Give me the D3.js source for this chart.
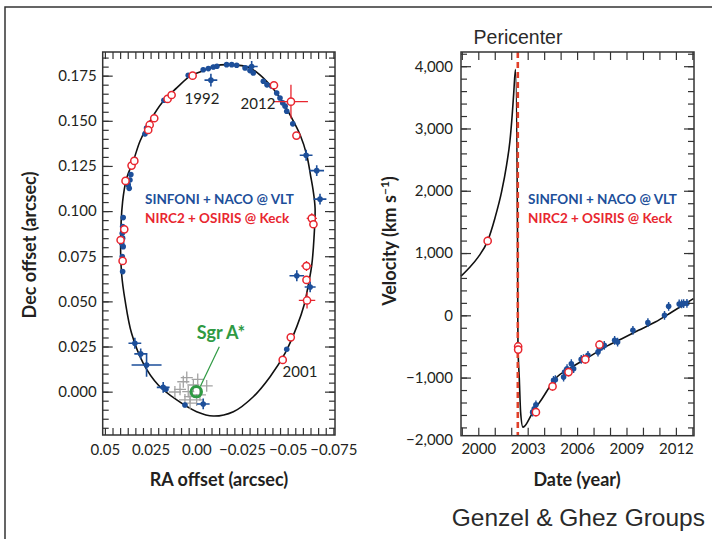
<!DOCTYPE html>
<html>
<head>
<meta charset="utf-8">
<script src="https://cdn.jsdelivr.net/npm/d3@7"></script>
<style>
  body { margin: 0; background: #fff; }
  svg { display: block; font-family: Lato, "Open Sans", sans-serif; }
  .tick text { font-size: 15px; fill: #231f20; font-family: Lato, "Open Sans", sans-serif; }
  .axis-title { font-size: 18px; font-weight: 700; fill: #231f20; }
  .legend { font-size: 13.5px; font-weight: 700; }
  .year { font-size: 15px; fill: #231f20; }
  .note { font-family: "Liberation Sans", Arimo, sans-serif; fill: #2a2a2a; }
</style>
</head>
<body>
<svg id="chart" width="712" height="539"></svg>
<script>
// ---- orbit panel (RA / Dec in arcsec) ----
const orbitRA = [-0.0185, -0.0293, -0.0385, -0.0458, -0.0522, -0.0568, -0.0604, -0.0626, -0.0639, -0.065,
  -0.0644, -0.0632, -0.0613, -0.059, -0.055, -0.0486, -0.0404, -0.0312, -0.0203, -0.0093,
  -0.0002, 0.0107, 0.0208, 0.029, 0.0354, 0.039, 0.0408, 0.0414, 0.0403, 0.0381,
  0.0345, 0.0308, 0.0254, 0.0181, 0.0107, 0.0034, -0.002, -0.0102];
const orbitDec = [0.1811, 0.1793, 0.1719, 0.1626, 0.1516, 0.1423, 0.1312, 0.1193, 0.1117, 0.1016,
  0.085, 0.0702, 0.0591, 0.048, 0.036, 0.0213, 0.0083, -0.0028, -0.0111, -0.0135,
  -0.0111, -0.0046, 0.0037, 0.0157, 0.0323, 0.0508, 0.0646, 0.0812, 0.1052, 0.1182,
  0.1276, 0.1387, 0.1497, 0.1608, 0.1682, 0.1747, 0.177, 0.1804];

// [RA, Dec, errRA, errDec]
const vltOrbit = [
  [0.0044, 0.1752, 0.0012, 0.0012], [-0.0038, 0.1783, 0.0012, 0.0012], [-0.0066, 0.1789, 0.0012, 0.0012],
  [-0.0093, 0.1798, 0.0012, 0.0012], [-0.0113, 0.1802, 0.0012, 0.0012], [-0.0166, 0.1811, 0.0012, 0.0012],
  [-0.0194, 0.1811, 0.0012, 0.0012], [-0.0221, 0.1808, 0.0012, 0.0012], [-0.0267, 0.1793, 0.0012, 0.0012],
  [-0.0303, 0.1801, 0.0033, 0.003], [-0.0294, 0.1778, 0.0012, 0.0012], [-0.0312, 0.1765, 0.0012, 0.0012],
  [-0.0367, 0.1719, 0.0012, 0.0012], [-0.0387, 0.1699, 0.0012, 0.0012], [-0.0413, 0.1691, 0.0012, 0.0012],
  [-0.044, 0.1654, 0.0012, 0.0012], [-0.0458, 0.1626, 0.0012, 0.0012], [-0.0473, 0.1599, 0.0012, 0.0012],
  [-0.0486, 0.1581, 0.0012, 0.0012], [-0.0495, 0.1553, 0.0012, 0.0012], [-0.0528, 0.1483, 0.0012, 0.0012],
  [-0.0601, 0.1309, 0.0035, 0.003], [-0.0659, 0.1224, 0.004, 0.003], [-0.008, 0.1725, 0.0035, 0.0035],
  [0.0177, 0.1614, 0.0012, 0.0012], [0.0253, 0.1483, 0.0012, 0.0012], [0.0272, 0.146, 0.0012, 0.0012],
  [0.0281, 0.1427, 0.0012, 0.0012], [0.0336, 0.1285, 0.0012, 0.0012], [0.0345, 0.1267, 0.0012, 0.0012],
  [0.0358, 0.1202, 0.0012, 0.0012], [0.0363, 0.1172, 0.0012, 0.0012], [0.0372, 0.1145, 0.0012, 0.0012],
  [0.0367, 0.1126, 0.0012, 0.0012], [0.04, 0.0964, 0.0012, 0.0012], [0.0403, 0.0914, 0.0012, 0.0012],
  [0.0405, 0.0877, 0.0012, 0.0012], [0.0403, 0.085, 0.0012, 0.0012], [0.0408, 0.0822, 0.0012, 0.0012],
  [0.04, 0.0803, 0.0012, 0.0012], [0.0405, 0.0748, 0.0012, 0.0012], [0.0403, 0.0665, 0.0012, 0.0012],
  [-0.0677, 0.1066, 0.0035, 0.003], [-0.055, 0.0642, 0.004, 0.003], [-0.0623, 0.058, 0.003, 0.003],
  [0.0336, 0.0268, 0.0035, 0.003], [0.0304, 0.0209, 0.0035, 0.003], [0.0272, 0.0148, 0.0082, 0.0066],
  [0.0181, 0.0024, 0.0035, 0.003], [0.0166, 0.0013, 0.0012, 0.0012], [0.0062, -0.0074, 0.0012, 0.0012],
  [-0.0038, -0.0068, 0.0035, 0.003], [-0.0495, 0.0235, 0.0012, 0.0012]
];
const keckOrbit = [
  [0.002, 0.175, 0.0012, 0.0012], [0.0157, 0.1621, 0.0012, 0.0012], [0.0135, 0.1643, 0.0012, 0.0012],
  [0.023, 0.1514, 0.0012, 0.0012], [0.0255, 0.1477, 0.0012, 0.0012], [0.0263, 0.1449, 0.0012, 0.0012],
  [0.0354, 0.1252, 0.0012, 0.0012], [0.0339, 0.1278, 0.0012, 0.0012], [0.0387, 0.1167, 0.0012, 0.0012],
  [-0.0425, 0.1697, 0.0012, 0.0012], [-0.0518, 0.1606, 0.0093, 0.0093], [-0.0548, 0.1418, 0.0012, 0.0012],
  [0.0394, 0.0899, 0.0012, 0.0012], [0.0414, 0.084, 0.0012, 0.0012], [0.0403, 0.0724, 0.0012, 0.0012],
  [-0.0632, 0.096, 0.0028, 0.0028], [-0.0641, 0.0927, 0.0012, 0.0012], [-0.0603, 0.0696, 0.0028, 0.0028],
  [-0.0603, 0.0619, 0.0012, 0.0012], [-0.0606, 0.0505, 0.0045, 0.0045], [-0.0517, 0.0301, 0.0012, 0.0012],
  [-0.0473, 0.0176, 0.0012, 0.0012]
];
const flares = [
  [0.0089, 0.0013], [0.0071, 0.0055], [0.0044, 0.0], [0.0034, -0.0028], [0.0016, 0.0037], [-0.002, -0.0018],
  [-0.0057, 0.0032], [0.0034, -0.0064], [0.0062, -0.0046], [-0.0002, -0.0046], [0.0117, -0.0002],
  [0.0052, 0.0078], [-0.0008, 0.0068]
];
const flareErr = 0.0033;

const raMajor = [0.05, 0.025, 0, -0.025, -0.05, -0.075];
const raMinor = d3.range(0, 31).map((i) => 0.05 - (i * 0.025) / 6);
const decMajor = [0, 0.025, 0.05, 0.075, 0.1, 0.125, 0.15, 0.175];
const decMinor = d3.range(-4, 38).map((i) => i * 0.005);

// ---- velocity panel (year / km s-1) ----
const velYear = [1998.95, 1999.5, 1999.98, 2000.57, 2001.01, 2001.42, 2001.72, 2001.92, 2002.06, 2002.15,
  2002.26, 2002.386, 2002.398, 2002.41, 2002.49, 2002.57, 2002.71, 2002.85, 2003.26, 2003.87,
  2004.68, 2005.69, 2006.7, 2007.71, 2008.72, 2009.73, 2010.75, 2011.76, 2013.07];
const velKms = [630, 777, 930, 1195, 1560, 1989, 2417, 2793, 3221, 3560,
  3950, 1126, 0, -482, -1013, -1555, -1796, -1769, -1581, -1339,
  -1018, -831, -671, -510, -375, -241, -108, 53, 268];

// [year, km/s]
const vltVel = [
  [2003.3, -1555], [2003.4, -1500], [2003.5, -1436], [2004.57, -1045], [2004.68, -1034], [2005.18, -992],
  [2005.24, -911], [2005.39, -857], [2005.65, -777], [2005.79, -857], [2006.25, -708], [2006.39, -697],
  [2006.66, -643], [2007.27, -590], [2007.35, -536], [2007.51, -494], [2007.65, -483], [2008.28, -402],
  [2008.46, -429], [2009.39, -241], [2010.3, -118], [2011.31, 0], [2011.56, 145], [2012.2, 182],
  [2012.35, 182], [2012.47, 188], [2012.67, 193]
];
const keckVel = [
  [2000.57, 1195], [2002.42, -500], [2002.42, -550], [2003.5, -1555], [2004.51, -1142],
  [2005.48, -911], [2006.5, -708], [2007.36, -472]
];
const velErr = 70;
const pericenterYear = 2002.4;

const velMajor = [-2000, -1000, 0, 1000, 2000, 3000, 4000];
const velMinor = d3.range(-1800, 4201, 200);
const yearMajor = [2000, 2003, 2006, 2009, 2012];
const yearMinor = d3.range(1999, 2014);

const BLUE = "#1d4f9a";
const RED = "#e8262f";
const GREEN = "#2f9a43";
const GREY = "#a3a3a3";
const INK = "#231f20";

const svg = d3.select("#chart");
svg.append("rect").attr("width", 712).attr("height", 539).attr("fill", "#fff");

// page frame
svg.append("path")
  .attr("d", "M5,539V7H712")
  .attr("fill", "none")
  .attr("stroke", "#333")
  .attr("stroke-width", 1.5);

function tickRow(g, axisFn, scale, values, len, pos) {
  g.append("g")
    .attr("transform", pos)
    .attr("color", "#333")
    .call(axisFn(scale).tickValues(values).tickSizeInner(-len).tickSizeOuter(0).tickFormat(""))
    .call((s) => s.select(".domain").remove())
    .selectAll("line").attr("stroke-width", 1.2);
}

function labelRow(g, axisFn, scale, values, pad, fmt, pos) {
  g.append("g")
    .attr("transform", pos)
    .call(axisFn(scale).tickValues(values).tickSize(0).tickPadding(pad).tickFormat(fmt))
    .call((s) => s.select(".domain").remove());
}

function boxFrame(g, x, y, o) {
  const [x0, x1] = x.range();
  const [y0, y1] = y.range();
  const inside = o.yMajor.filter((v) => v >= y.domain()[0]);
  tickRow(g, d3.axisBottom, x, o.xMinor, o.xLen, `translate(0,${y0})`);
  tickRow(g, d3.axisTop, x, o.xMinor, o.xLen, `translate(0,${y1})`);
  tickRow(g, d3.axisLeft, y, o.yMinor, 6, `translate(${x0},0)`);
  tickRow(g, d3.axisRight, y, o.yMinor, 6, `translate(${x1},0)`);
  tickRow(g, d3.axisLeft, y, inside, 10, `translate(${x0},0)`);
  tickRow(g, d3.axisRight, y, inside, 10, `translate(${x1},0)`);
  labelRow(g, d3.axisBottom, x, o.xMajor, o.xPad, o.xFmt, `translate(0,${y0})`);
  labelRow(g, d3.axisLeft, y, o.yMajor, o.yPad, o.yFmt, `translate(${x0},0)`);
  g.append("rect")
    .attr("x", x0).attr("y", y1)
    .attr("width", x1 - x0).attr("height", y0 - y1)
    .attr("fill", "none").attr("stroke", "#333").attr("stroke-width", 1.5);
}

function crosses(g, data, x, y, color, width, ex, ey) {
  g.append("g")
    .selectAll("path")
    .data(data)
    .join("path")
    .attr("d", (d) => {
      const a = ex ? ex(d) : d[2];
      const b = ey ? ey(d) : d[3];
      return `M${x(d[0] - a)},${y(d[1])}H${x(d[0] + a)}M${x(d[0])},${y(d[1] - b)}V${y(d[1] + b)}`;
    })
    .attr("stroke", color)
    .attr("stroke-width", width)
    .attr("fill", "none");
}

// ================= orbit panel =================
const xL = d3.scaleLinear().domain([0.0512, -0.0759]).range([102.7, 335]);
const yL = d3.scaleLinear().domain([-0.024, 0.1881]).range([435, 52]);
const left = svg.append("g");

const orbitLine = d3.line()
  .x((d) => xL(d[0]))
  .y((d) => yL(d[1]))
  .curve(d3.curveCatmullRomClosed.alpha(0.5));

left.append("path")
  .datum(d3.zip(orbitRA, orbitDec))
  .attr("d", orbitLine)
  .attr("fill", "none")
  .attr("stroke", "#111")
  .attr("stroke-width", 1.6);

crosses(left, flares, xL, yL, GREY, 1.3, () => flareErr, () => flareErr);
crosses(left, vltOrbit, xL, yL, BLUE, 1.6);
left.append("g")
  .selectAll("circle")
  .data(vltOrbit)
  .join("circle")
  .attr("cx", (d) => xL(d[0]))
  .attr("cy", (d) => yL(d[1]))
  .attr("r", 2.8)
  .attr("fill", BLUE);

crosses(left, keckOrbit, xL, yL, RED, 1.3);
left.append("g")
  .selectAll("circle")
  .data(keckOrbit)
  .join("circle")
  .attr("cx", (d) => xL(d[0]))
  .attr("cy", (d) => yL(d[1]))
  .attr("r", 3.6)
  .attr("fill", "#fff")
  .attr("stroke", RED)
  .attr("stroke-width", 1.5);

// Sgr A*
left.append("line")
  .attr("x1", xL(-0.0126)).attr("y1", yL(0.0249))
  .attr("x2", xL(-0.0022)).attr("y2", yL(0.0028))
  .attr("stroke", GREEN).attr("stroke-width", 1.2);
left.append("circle")
  .attr("cx", xL(0)).attr("cy", yL(0))
  .attr("r", 5.2)
  .attr("fill", "none")
  .attr("stroke", GREEN)
  .attr("stroke-width", 3);
left.append("text")
  .attr("x", 221).attr("y", 339)
  .attr("text-anchor", "middle")
  .attr("font-size", 18).attr("font-weight", 700)
  .attr("fill", GREEN)
  .text("Sgr A*");

left.append("text").attr("class", "year").attr("x", 202).attr("y", 104).attr("text-anchor", "middle").text("1992");
left.append("text").attr("class", "year").attr("x", 258).attr("y", 109).attr("text-anchor", "middle").text("2012");
left.append("text").attr("class", "year").attr("x", 300).attr("y", 377).attr("text-anchor", "middle").text("2001");

left.append("text").attr("class", "legend").attr("x", 145).attr("y", 204).attr("fill", BLUE).text("SINFONI + NACO @ VLT");
left.append("text").attr("class", "legend").attr("x", 145).attr("y", 223).attr("fill", RED).text("NIRC2 + OSIRIS @ Keck");

boxFrame(left, xL, yL, {
  xMinor: raMinor,
  xMajor: raMajor,
  xLen: 7,
  xPad: 9,
  xFmt: (d) => (d === 0 ? "0.00" : (d < 0 ? "\u2212" : "") + String(Math.abs(d))),
  yMinor: decMinor,
  yMajor: decMajor,
  yPad: 6,
  yFmt: d3.format(".3f"),
});

left.append("text")
  .attr("class", "axis-title")
  .attr("x", 219).attr("y", 486)
  .attr("text-anchor", "middle")
  .text("RA offset (arcsec)");
left.append("text")
  .attr("class", "axis-title")
  .attr("transform", "translate(36,245) rotate(-90)")
  .attr("text-anchor", "middle")
  .text("Dec offset (arcsec)");

// ================= velocity panel =================
const xR = d3.scaleLinear().domain([1998.95, 2013.1]).range([461, 694]);
const yR = d3.scaleLinear().domain([-1933, 4228]).range([435.7, 52]);
const right = svg.append("g");

right.append("path")
  .datum(d3.zip(velYear, velKms))
  .attr("d", d3.line().x((d) => xR(d[0])).y((d) => yR(d[1])).curve(d3.curveMonotoneX))
  .attr("fill", "none")
  .attr("stroke", "#111")
  .attr("stroke-width", 1.6);

right.append("line")
  .attr("x1", xR(pericenterYear)).attr("x2", xR(pericenterYear))
  .attr("y1", yR.range()[1]).attr("y2", yR.range()[0])
  .attr("stroke", "#e0402a")
  .attr("stroke-width", 2.6)
  .attr("stroke-dasharray", "6,4");

crosses(right, vltVel, xR, yR, BLUE, 1.4, () => 0.08, () => velErr);
right.append("g")
  .selectAll("circle")
  .data(vltVel)
  .join("circle")
  .attr("cx", (d) => xR(d[0]))
  .attr("cy", (d) => yR(d[1]))
  .attr("r", 2.8)
  .attr("fill", BLUE);

crosses(right, keckVel, xR, yR, RED, 1.2, () => 0.12, () => velErr);
right.append("g")
  .selectAll("circle")
  .data(keckVel)
  .join("circle")
  .attr("cx", (d) => xR(d[0]))
  .attr("cy", (d) => yR(d[1]))
  .attr("r", 3.6)
  .attr("fill", "#fff")
  .attr("stroke", RED)
  .attr("stroke-width", 1.5);

right.append("text").attr("class", "legend").attr("x", 528).attr("y", 204).attr("fill", BLUE).text("SINFONI + NACO @ VLT");
right.append("text").attr("class", "legend").attr("x", 528).attr("y", 223).attr("fill", RED).text("NIRC2 + OSIRIS @ Keck");

boxFrame(right, xR, yR, {
  xMinor: yearMinor,
  xMajor: yearMajor,
  xLen: 8,
  xPad: 8,
  xFmt: d3.format("d"),
  yMinor: velMinor,
  yMajor: velMajor,
  yPad: 8,
  yFmt: d3.format(","),
});

right.append("text")
  .attr("class", "axis-title")
  .attr("x", 577).attr("y", 486)
  .attr("text-anchor", "middle")
  .text("Date (year)");

const vTitle = right.append("text")
  .attr("class", "axis-title")
  .attr("transform", "translate(396,241) rotate(-90)")
  .attr("text-anchor", "middle");
vTitle.append("tspan").text("Velocity (km s");
vTitle.append("tspan").attr("dy", -7).attr("font-size", 12).text("\u22121");
vTitle.append("tspan").attr("dy", 7).text(")");

svg.append("text")
  .attr("class", "note")
  .attr("x", 518).attr("y", 44)
  .attr("text-anchor", "middle")
  .attr("font-size", 19.5)
  .text("Pericenter");

svg.append("text")
  .attr("class", "note")
  .attr("x", 705).attr("y", 526)
  .attr("text-anchor", "end")
  .attr("font-size", 24.5)
  .text("Genzel & Ghez Groups");
</script>
</body>
</html>
